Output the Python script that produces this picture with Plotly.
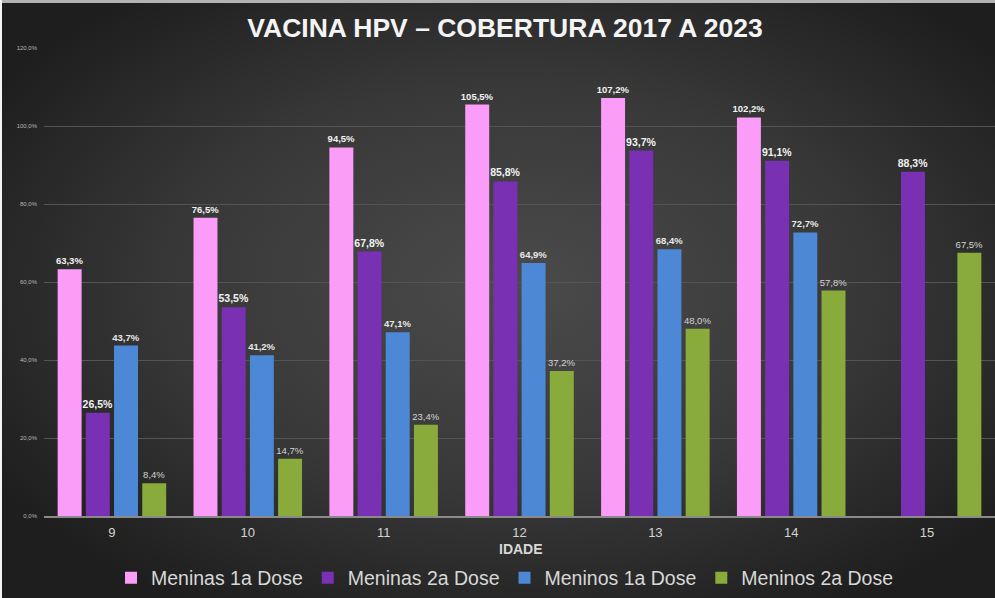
import base64
import plotly.graph_objects as go

idades = ["9", "10", "11", "12", "13", "14", "15"]
meninas_1a = [63.3, 76.5, 94.5, 105.5, 107.2, 102.2, None]
meninas_2a = [26.5, 53.5, 67.8, 85.8, 93.7, 91.1, 88.3]
meninos_1a = [43.7, 41.2, 47.1, 64.9, 68.4, 72.7, None]
meninos_2a = [8.4, 14.7, 23.4, 37.2, 48.0, 57.8, 67.5]

FONT = "Liberation Sans, Arial"
series = [
    ("Meninas 1a Dose", meninas_1a, "#fa9cf8", dict(size=9.5, color="#f2f2f2", family=FONT, weight="bold")),
    ("Meninas 2a Dose", meninas_2a, "#7a30b2", dict(size=10.5, color="#f2f2f2", family=FONT, weight="bold")),
    ("Meninos 1a Dose", meninos_1a, "#4c88d6", dict(size=9.5, color="#e8e8e8", family=FONT, weight="bold")),
    ("Meninos 2a Dose", meninos_2a, "#89ab3b", dict(size=9.5, color="#d4d4d4", family=FONT)),
]

def fmt(v):
    return "" if v is None else f"{v:.1f}%".replace(".", ",")

fig = go.Figure()
for name, vals, color, tf in series:
    fig.add_trace(go.Bar(
        name=name, x=idades, y=vals,
        marker=dict(color=color, line=dict(width=0)),
        text=[fmt(v) for v in vals], textposition="outside",
        textfont=tf, constraintext="none", cliponaxis=False,
    ))

W, H = 995, 598
svg = f'''<svg xmlns="http://www.w3.org/2000/svg" width="{W}" height="{H}" viewBox="0 0 {W} {H}" preserveAspectRatio="none">
<defs><radialGradient id="g" cx="52%" cy="48%" r="62%">
<stop offset="0" stop-color="#4b4b4b"/><stop offset="0.55" stop-color="#383838"/><stop offset="1" stop-color="#1e1e1e"/>
</radialGradient></defs>
<rect x="0" y="0" width="{W}" height="{H}" fill="url(#g)"/>
<rect x="0" y="0" width="{W}" height="3" fill="#b4b4b4"/>
<rect x="0" y="0" width="2" height="{H}" fill="#f4f4f4"/>
</svg>'''
src = "data:image/svg+xml;base64," + base64.b64encode(svg.encode()).decode()

ml, mr, mt, mb = 44, 0, 48, 82
pw, ph = W - ml - mr, H - mt - mb

fig.update_layout(
    width=W, height=H,
    margin=dict(l=ml, r=mr, t=mt, b=mb, autoexpand=False),
    paper_bgcolor="#2c2c2c", plot_bgcolor="rgba(0,0,0,0)",
    separators=",.",
    barmode="group", bargap=0.17, bargroupgap=0.15,
    font=dict(family=FONT, color="#d8d8d8"),
    title=dict(text="<b>VACINA HPV – COBERTURA 2017 A 2023</b>",
               x=(505 / W), xanchor="center", y=1 - 28 / H, yanchor="middle",
               yref="container", xref="container",
               font=dict(size=26.5, color="#f4f4f4", family=FONT)),
    xaxis=dict(showgrid=False, showline=True, linecolor="#8a8a8a", linewidth=1.5,
               tickfont=dict(size=13, color="#d4d4d4"), ticks="", ticklabelstandoff=4),
    yaxis=dict(range=[0, 120], dtick=20, tickformat=".1f", ticksuffix="%",
               showgrid=True, gridcolor="#545454", gridwidth=1, zeroline=False,
               tickfont=dict(size=6, color="#b8b8b8"), ticks="", ticklabelstandoff=6),
    legend=dict(orientation="h", xref="paper", x=(505 - ml) / pw, xanchor="center",
                yref="container", y=1 - 578 / H, yanchor="middle",
                font=dict(size=19.5, color="#d8d8d8"), bgcolor="rgba(0,0,0,0)",
                itemwidth=30, traceorder="normal"),
    showlegend=True,
    images=[dict(source=src, xref="paper", yref="paper",
                 x=-ml / pw, y=1 + mt / ph, sizex=W / pw, sizey=H / ph,
                 xanchor="left", yanchor="top", sizing="stretch", layer="below")],
    annotations=[dict(text="<b>IDADE</b>", xref="paper", yref="paper",
                      x=(521 - ml) / pw, y=-(549 - (H - mb)) / ph,
                      xanchor="center", yanchor="middle", showarrow=False,
                      font=dict(size=14, color="#d8d8d8"))],
)

fig.write_html("out.html", config={"displayModeBar": False},
               post_script="document.body.style.margin='0';")
